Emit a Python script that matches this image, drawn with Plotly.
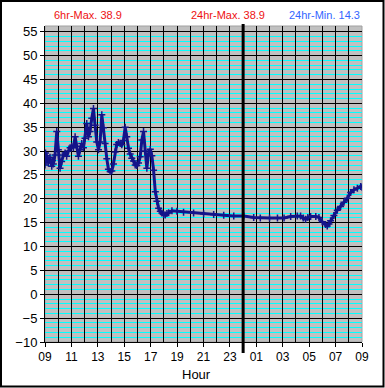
import plotly.graph_objects as go

# ---- data (hours since 09:00, temperature) ----
hours = [0.00, 0.04, 0.13, 0.25, 0.38, 0.51, 0.57, 0.63, 0.76, 0.89, 1.01, 1.14, 1.26, 1.39,
         1.52, 1.64, 1.77, 1.90, 2.02, 2.15, 2.28, 2.40, 2.53, 2.66, 2.78, 2.91, 3.03, 3.16,
         3.29, 3.41, 3.54, 3.67, 3.79, 3.92, 4.05, 4.17, 4.30, 4.43, 4.55, 4.68, 4.80, 4.93,
         5.06, 5.18, 5.31, 5.43, 5.56, 5.69, 5.81, 5.94, 6.07, 6.19, 6.32, 6.45, 6.57, 6.70,
         6.83, 6.95, 7.08, 7.21, 7.33, 7.46, 7.59, 7.71, 7.84, 7.97, 8.09, 8.22, 8.35, 8.47,
         8.60, 8.73, 8.85, 8.98, 9.10, 9.23, 9.36, 9.61, 9.99, 10.49, 11.25, 12.01, 12.77,
         13.53, 14.29, 15.05, 15.80, 16.30, 17.00, 17.60, 18.10, 18.60, 19.10, 19.35, 19.55,
         19.73, 19.90, 20.11, 20.50, 20.74, 20.99, 21.24, 21.37, 21.50, 21.62, 21.87, 22.13,
         22.38, 22.63, 22.89, 23.14, 23.39, 23.65, 23.90, 24.00]
temps = [27.1, 29.6, 29.0, 27.5, 28.7, 26.8, 28.0, 27.3, 29.2, 34.1, 30.3, 26.4, 27.8, 29.2,
         29.6, 28.9, 30.0, 30.7, 31.0, 30.7, 33.0, 31.0, 28.9, 30.3, 31.6, 30.7, 32.7, 35.8,
         33.0, 34.1, 36.9, 38.9, 35.4, 31.9, 30.3, 31.9, 37.6, 34.9, 31.6, 28.4, 26.2, 25.7,
         25.8, 27.3, 29.8, 31.4, 31.8, 31.6, 31.3, 32.2, 35.0, 33.0, 30.6, 29.4, 28.5, 27.9,
         27.1, 27.0, 27.5, 28.8, 32.3, 34.1, 30.0, 26.4, 29.5, 30.4, 29.0, 26.0, 21.5, 19.5,
         18.0, 17.4, 17.0, 16.7, 16.6, 16.9, 17.1, 17.5, 17.4, 17.2, 17.0, 16.85, 16.7,
         16.55, 16.4, 16.4, 16.1, 16.0, 16.0, 16.0, 16.0, 16.3, 16.4, 16.4, 16.0,
         15.7, 16.1, 16.3, 16.3, 16.1, 15.2, 14.6, 14.3, 14.7, 15.4, 16.5, 17.6,
         18.4, 19.3, 20.1, 21.3, 21.9, 22.2, 22.6, 22.4]

start_hour = 9
hour_grid = list(range(0, 25))
tick_hours = list(range(0, 25, 2))
tick_labels = ["09", "11", "13", "15", "17", "19", "21", "23", "01", "03", "05", "07", "09"]
y_ticks = list(range(-10, 56, 5))

max6 = max(t for h, t in zip(hours, temps) if h <= 6)
max24 = max(temps)
min24 = min(temps)

# labels on every other hour, blank in between
label_map = dict(zip(tick_hours, tick_labels))
grid_text = [label_map.get(h, "") for h in hour_grid]

W, H = 385, 388
ML, MR, MT, MB = 45, 23, 26, 46
PW, PH = W - ML - MR, H - MT - MB


def px_x(p):
    return (p - ML) / PW


def px_y(p):
    return (H - MB - p) / PH


navy = "#14148a"
fig = go.Figure(go.Scatter(
    x=hours, y=temps, mode="lines+markers",
    line=dict(color=navy, width=3),
    marker=dict(symbol="cross-thin", size=5, line=dict(color=navy, width=1.5)),
))

font = "Arial, Liberation Sans, sans-serif"
midnight = 24 - start_hour

fig.update_layout(
    width=W, height=H,
    margin=dict(l=ML, r=MR, t=MT, b=MB),
    paper_bgcolor="white", plot_bgcolor="#c0c0c0",
    showlegend=False,
    font=dict(family=font, color="black"),
    xaxis=dict(
        range=[0, 24], tickmode="array", tickvals=hour_grid, ticktext=grid_text,
        ticks="", ticklabelstandoff=4,
        showgrid=True, gridcolor="black", gridwidth=1,
        minor=dict(tickvals=tick_hours, showgrid=False, ticks="outside", ticklen=4,
                   tickcolor="black"),
        showline=True, linecolor="black", linewidth=1, zeroline=False,
        tickfont=dict(size=12),
    ),
    yaxis=dict(
        range=[-10, 56.2], tickmode="array", tickvals=y_ticks,
        ticks="outside", ticklen=4, tickcolor="black",
        showgrid=True, gridcolor="black", gridwidth=1,
        minor=dict(dtick=1, tick0=0, showgrid=True, gridcolor="#00ffff", ticks=""),
        showline=True, linecolor="black", linewidth=1, zeroline=False,
        tickfont=dict(size=13),
    ),
    shapes=[
        dict(type="rect", xref="paper", yref="paper", x0=0, x1=1, y0=0, y1=1,
             line=dict(color="#a0a0a0", width=1), layer="below"),
        dict(type="line", xref="x", yref="paper", x0=midnight, x1=midnight,
             y0=px_y(353), y1=px_y(24), line=dict(color="black", width=3), layer="above"),
        dict(type="rect", xref="paper", yref="paper",
             x0=px_x(1), x1=px_x(383.5), y0=px_y(386.5), y1=px_y(1),
             line=dict(color="black", width=2)),
    ],
    annotations=[
        dict(text=f"6hr-Max. {max6:.1f}", xref="paper", yref="paper",
             x=px_x(88), y=px_y(15), xanchor="center", yanchor="middle",
             showarrow=False, font=dict(size=11, color="#ee1111")),
        dict(text=f"24hr-Max. {max24:.1f}", xref="paper", yref="paper",
             x=px_x(228), y=px_y(15), xanchor="center", yanchor="middle",
             showarrow=False, font=dict(size=11, color="#ee1111")),
        dict(text=f"24hr-Min. {min24:.1f}", xref="paper", yref="paper",
             x=px_x(324), y=px_y(15), xanchor="center", yanchor="middle",
             showarrow=False, font=dict(size=11, color="#3366ff")),
        dict(text="Hour", xref="paper", yref="paper",
             x=px_x(196), y=px_y(374), xanchor="center", yanchor="middle",
             showarrow=False, font=dict(size=13, color="black")),
    ],
)

fig.write_html("out.html", config={"displayModeBar": False},
               post_script="document.body.style.margin='0px';")
